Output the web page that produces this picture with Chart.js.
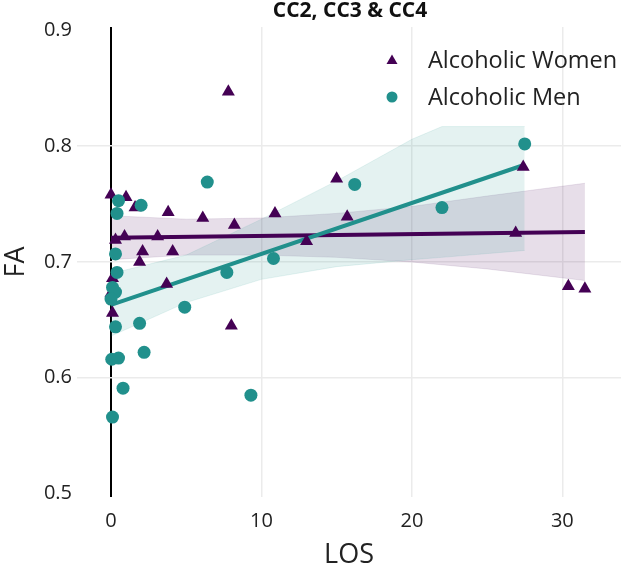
<!DOCTYPE html>
<html>
<head>
<meta charset="utf-8">
<script src="https://cdn.jsdelivr.net/npm/chart.js@4/dist/chart.umd.min.js"></script>
<style>
  html, body { margin: 0; padding: 0; background: #fff; }
  #wrap { width: 621px; height: 572px; }
</style>
</head>
<body>
<div id="wrap"><canvas id="faChart" width="621" height="572"></canvas></div>
<script>
// data
const womenLOS = [0, 1.0, 1.6, 3.8, 0.9, 3.1, 0.3, 2.1, 4.1, 1.9, 0.1, 0, 3.7, 0.1, 6.1, 8.2, 10.9, 8.0, 13.0, 7.8, 15.0, 15.7, 27.4, 26.9, 30.4, 31.5];
const womenFA  = [0.758, 0.756, 0.747, 0.743, 0.722, 0.722, 0.719, 0.709, 0.709, 0.700, 0.686, 0.673, 0.681, 0.656, 0.738, 0.732, 0.742, 0.645, 0.718, 0.847, 0.772, 0.739, 0.782, 0.725, 0.679, 0.677];

const menLOS = [0.5, 2.0, 0.4, 0.3, 0.4, 6.4, 0.1, 0.3, 0, 0.3, 1.9, 0.05, 0.5, 2.2, 0.8, 0.1, 4.9, 7.7, 10.8, 9.3, 16.2, 22.0, 27.5];
const menFA  = [0.753, 0.749, 0.742, 0.707, 0.691, 0.769, 0.678, 0.674, 0.668, 0.644, 0.647, 0.616, 0.617, 0.622, 0.591, 0.566, 0.661, 0.691, 0.703, 0.585, 0.767, 0.747, 0.802];

// fitted lines and confidence bands
const womenFitX = [0, 31.5];
const womenFitY = [0.721, 0.726];
const womenBandX    = [0, 5, 10, 15, 20, 25, 31.5];
const womenBandLow  = [0.702, 0.706, 0.706, 0.704, 0.700, 0.694, 0.684];
const womenBandHigh = [0.740, 0.737, 0.738, 0.742, 0.748, 0.757, 0.768];

const menFitX = [0, 27.5];
const menFitY = [0.663, 0.784];
const menBandX    = [0, 5, 10, 15, 20, 22, 27.5];
const menBandLow  = [0.636, 0.665, 0.685, 0.696, 0.702, 0.704, 0.710];
const menBandHigh = [0.690, 0.706, 0.737, 0.770, 0.806, 0.817, 0.817];

const xTicks = [0, 10, 20, 30];
const yTicks = [0.5, 0.6, 0.7, 0.8, 0.9];

const PURPLE = '#440154';
const TEAL = '#21908c';
const FONT = '"Open Sans", "Noto Sans", sans-serif';

const pts = (xs, ys) => xs.map((x, i) => ({ x: x, y: ys[i] }));

// title + legend drawn by hand so they sit where the reference has them
const decor = {
    id: 'decor',
    afterDraw(chart) {
        const c = chart.ctx;
        c.save();
        c.fillStyle = '#111';
        c.font = 'bold 21px ' + FONT;
        c.textAlign = 'center';
        c.textBaseline = 'middle';
        c.fillText('CC2, CC3 & CC4', 350, 11);

        c.font = '23.5px ' + FONT;
        c.textAlign = 'left';
        // women
        c.fillStyle = PURPLE;
        c.beginPath();
        c.moveTo(392, 54.5);
        c.lineTo(397.5, 64);
        c.lineTo(386.5, 64);
        c.closePath();
        c.fill();
        c.fillStyle = '#222';
        c.fillText('Alcoholic Women', 428, 61);
        // men
        c.fillStyle = TEAL;
        c.beginPath();
        c.arc(392, 97, 5.5, 0, Math.PI * 2);
        c.fill();
        c.fillStyle = '#222';
        c.fillText('Alcoholic Men', 428, 98);
        c.restore();
    }
};

new Chart(document.getElementById('faChart'), {
    type: 'scatter',
    data: {
        datasets: [
            {
                type: 'line', label: 'wlow', data: pts(womenBandX, womenBandLow),
                borderColor: 'rgba(68,1,84,0.10)', borderWidth: 1, pointRadius: 0, fill: false, order: 10
            },
            {
                type: 'line', label: 'whigh', data: pts(womenBandX, womenBandHigh),
                borderColor: 'rgba(68,1,84,0.10)', borderWidth: 1, pointRadius: 0,
                fill: '-1', backgroundColor: 'rgba(68,1,84,0.13)', order: 9
            },
            {
                type: 'line', label: 'mlow', data: pts(menBandX, menBandLow),
                borderColor: 'rgba(33,144,140,0.10)', borderWidth: 1, pointRadius: 0, fill: false, order: 8
            },
            {
                type: 'line', label: 'mhigh', data: pts(menBandX, menBandHigh),
                borderColor: 'rgba(33,144,140,0.10)', borderWidth: 1, pointRadius: 0,
                fill: '-1', backgroundColor: 'rgba(33,144,140,0.12)', order: 7
            },
            {
                type: 'line', label: 'wfit', data: pts(womenFitX, womenFitY),
                borderColor: PURPLE, borderWidth: 4, pointRadius: 0, fill: false, order: 6
            },
            {
                type: 'line', label: 'mfit', data: pts(menFitX, menFitY),
                borderColor: TEAL, borderWidth: 4, pointRadius: 0, fill: false, order: 5
            },
            {
                label: 'Alcoholic Women', data: pts(womenLOS, womenFA),
                pointStyle: 'triangle', pointRadius: 7.5, backgroundColor: PURPLE,
                borderColor: PURPLE, borderWidth: 0, order: 4
            },
            {
                label: 'Alcoholic Men', data: pts(menLOS, menFA),
                pointStyle: 'circle', pointRadius: 6.5, backgroundColor: TEAL,
                borderColor: TEAL, borderWidth: 0, order: 3
            }
        ]
    },
    options: {
        responsive: false,
        animation: false,
        layout: { autoPadding: false, padding: { top: 27, right: 0, bottom: 0, left: 0 } },
        plugins: {
            legend: { display: false },
            title: { display: false },
            tooltip: { enabled: false }
        },
        scales: {
            x: {
                type: 'linear',
                min: -2.26,
                max: 33.9,
                afterBuildTicks: s => { s.ticks = xTicks.map(v => ({ value: v })); },
                afterFit: s => { s.height = 75; },
                border: { display: false },
                grid: {
                    drawTicks: false,
                    color: ctx => ctx.tick && ctx.tick.value === 0 ? '#000' : '#ebebeb',
                    lineWidth: ctx => ctx.tick && ctx.tick.value === 0 ? 2 : 1.5
                },
                ticks: {
                    padding: 12,
                    color: '#222',
                    font: { family: FONT, size: 20 }
                },
                title: {
                    display: true, text: 'LOS', color: '#222',
                    font: { family: FONT, size: 27 },
                    padding: { top: 0, bottom: 0 }
                }
            },
            y: {
                min: 0.497,
                max: 0.903,
                afterBuildTicks: s => { s.ticks = yTicks.map(v => ({ value: v })); },
                afterFit: s => { s.width = 77; },
                border: { display: false },
                grid: {
                    drawTicks: false,
                    color: ctx => (ctx.tick && (ctx.tick.value === 0.5 || ctx.tick.value === 0.9)) ? 'rgba(0,0,0,0)' : '#ebebeb',
                    lineWidth: 1.5
                },
                ticks: {
                    padding: 5,
                    color: '#222',
                    font: { family: FONT, size: 20 },
                    callback: v => v.toFixed(1)
                },
                title: {
                    display: true, text: 'FA', color: '#222',
                    font: { family: FONT, size: 27 },
                    padding: { top: 0, bottom: 2 }
                }
            }
        }
    },
    plugins: [decor]
});
</script>
</body>
</html>
